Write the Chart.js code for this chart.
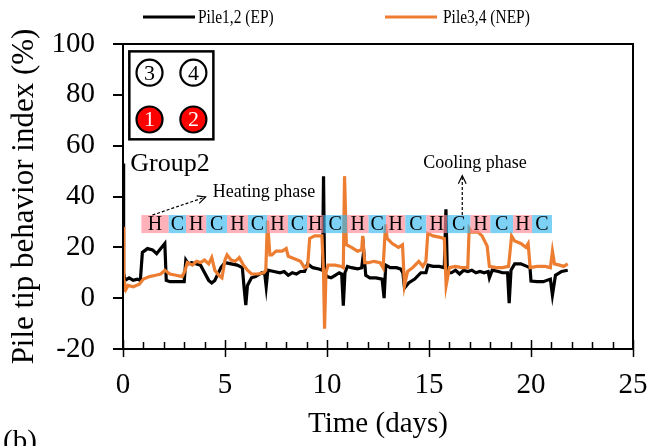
<!DOCTYPE html>
<html>
<head>
<meta charset="utf-8">
<script src="https://cdn.jsdelivr.net/npm/chart.js@4.4.0/dist/chart.umd.min.js"></script>
<style>
  body { margin: 0; background: #fff; }
  #wrap { width: 652px; height: 446px; }
</style>
</head>
<body>
<div id="wrap"><canvas id="pileTip" width="652" height="446"></canvas></div>
<script>
const SERIF = '"Liberation Serif", "Times New Roman", serif';

// Pile1,2 (EP): time in days, tip behavior index in %
const timeEP = [0, 0.03, 0.1, 0.3, 0.5, 0.7, 0.85, 0.95, 1.2, 1.45, 1.65, 1.85, 2.05, 2.12, 2.3, 2.6, 3.0, 3.08, 3.2, 3.35, 3.6, 3.8, 4.0, 4.2, 4.35, 4.5, 4.8, 5.0, 5.3, 5.6, 5.85, 5.95, 6.02, 6.1, 6.3, 6.5, 6.8, 6.95, 7.02, 7.1, 7.4, 7.7, 7.9, 8.1, 8.3, 8.5, 8.7, 8.9, 9.05, 9.3, 9.6, 9.78, 9.83, 9.88, 10.0, 10.2, 10.4, 10.6, 10.72, 10.8, 10.88, 11.0, 11.2, 11.5, 11.7, 11.8, 11.9, 12.1, 12.4, 12.7, 12.8, 12.88, 13.1, 13.4, 13.6, 13.72, 13.8, 14.0, 14.3, 14.6, 14.85, 14.95, 15.2, 15.5, 15.75, 15.83, 15.9, 16.1, 16.3, 16.5, 16.7, 16.9, 17.1, 17.3, 17.5, 17.7, 17.9, 17.96, 18.1, 18.4, 18.6, 18.85, 18.93, 19.02, 19.2, 19.5, 19.8, 19.95, 20.0, 20.3, 20.6, 20.95, 21.05, 21.2, 21.5, 21.8];
const pileEP = [53, 10, 7, 8, 7, 7.5, 7, 18, 19.5, 19, 17.5, 19.5, 21.5, 7, 6.5, 6.5, 6.5, 15, 13.5, 14, 13.5, 13, 10, 7, 6, 7, 12, 14, 13.5, 13, 12, 3, -2.7, 5, 8, 8.5, 10, 9.5, 4.5, 11, 10.5, 10, 10.5, 9, 10, 9.5, 10.5, 10.5, 13.5, 12, 11.5, 11, 48, 10, 8.5, 8, 9, 10, 9.5, -3, 10, 12.5, 12, 11.5, 12, 18.5, 9, 8, 8, 7.5, 0, 13, 12, 12, 11.5, 10, 4, 6, 7.5, 10, 10, 13, 12.5, 12.5, 12, 35, 10, 10, 11, 9.5, 11, 10.5, 11, 10, 10.5, 10, 10.5, 8, 11, 10.5, 10, 10, -2, 11, 13.5, 13.5, 12.5, 12, 6.7, 6.5, 6.5, 7.5, 1.2, 9, 10.5, 11];

// Pile3,4 (NEP)
const timeNEP = [0, 0.04, 0.08, 0.15, 0.25, 0.5, 0.8, 1.0, 1.3, 1.6, 1.85, 2.05, 2.3, 2.6, 2.9, 3.05, 3.15, 3.4, 3.6, 3.8, 4.0, 4.2, 4.35, 4.5, 4.7, 4.85, 5.0, 5.1, 5.3, 5.5, 5.7, 5.9, 6.1, 6.3, 6.6, 6.9, 7.0, 7.08, 7.2, 7.3, 7.5, 7.8, 8.0, 8.1, 8.4, 8.7, 8.9, 9.05, 9.15, 9.4, 9.75, 9.83, 9.88, 9.95, 10.05, 10.4, 10.7, 10.8, 10.86, 10.95, 11.2, 11.5, 11.7, 11.75, 11.85, 12.05, 12.3, 12.6, 12.75, 12.87, 12.95, 13.2, 13.5, 13.7, 13.8, 13.95, 14.2, 14.5, 14.7, 14.85, 14.94, 15.2, 15.5, 15.75, 15.84, 16.0, 16.3, 16.6, 16.9, 16.97, 17.1, 17.4, 17.6, 17.85, 17.96, 18.3, 18.6, 18.9, 19.05, 19.2, 19.5, 19.75, 19.86, 19.96, 20.3, 20.7, 20.95, 21.05, 21.15, 21.4, 21.6, 21.8];
const pileNEP = [28, 2.5, 6, 3.5, 5, 4.5, 5.5, 7.5, 8.5, 9, 9.5, 11, 9.5, 9, 8.5, 11, 14, 13, 14.5, 14, 15, 13.5, 16, 11, 9, 8, 15, 17, 15, 14.5, 16, 13, 11, 9.5, 9.5, 10, 11, 30.5, 17, 17, 18.5, 18.5, 19.5, 16.5, 15.5, 14.5, 12, 12.5, 23.5, 24.5, 24.5, 10, -12, 10, 13, 13, 12.5, 12, 48, 21, 20, 18.5, 19, 24.5, 14, 14, 14.5, 14, 12, 29, 23.5, 21.5, 20, 21, 5, 10.5, 12, 14.5, 12.5, 14.5, 25.5, 24.5, 24, 23.5, 5, 12, 12.5, 12, 12, 27.5, 26, 26, 24.5, 20.5, 12.5, 12, 12, 12.5, 24.5, 22.5, 21.5, 20, 21.5, 12, 12.5, 12.5, 12, 18.5, 13.5, 13, 12.5, 13.5];

const seriesLabels = ["Pile1,2 (EP)", "Pile3,4 (NEP)"];
const seriesColors = ["#000000", "#ED7D31"];

const xTicks = [0, 5, 10, 15, 20, 25];
const yTicks = [-20, 0, 20, 40, 60, 80, 100];

// heating / cooling phase boundaries (days)
const phaseEdges = [0.9, 2.24, 3.09, 4.08, 5.1, 6.13, 7.06, 8.09, 9.02, 9.83, 10.98, 12.04, 12.89, 13.84, 14.87, 15.88, 17.03, 18.01, 19.12, 20.05, 21.03];
const phaseLabels = ["H", "C", "H", "C", "H", "C", "H", "C", "H", "C", "H", "C", "H", "C", "H", "C", "H", "C", "H", "C"];

const toPoints = (xs, ys) => xs.map((t, i) => ({ x: t, y: ys[i] }));

function dashedArrow(ctx, x0, y0, x1, y1) {
  ctx.save();
  ctx.strokeStyle = "#000";
  ctx.lineWidth = 1.2;
  ctx.setLineDash([3, 2]);
  ctx.beginPath();
  ctx.moveTo(x0, y0);
  ctx.lineTo(x1, y1);
  ctx.stroke();
  ctx.setLineDash([]);
  const a = Math.atan2(y1 - y0, x1 - x0);
  const h = 9;
  ctx.beginPath();
  ctx.moveTo(x1 - h * Math.cos(a - 0.45), y1 - h * Math.sin(a - 0.45));
  ctx.lineTo(x1, y1);
  ctx.lineTo(x1 - h * Math.cos(a + 0.45), y1 - h * Math.sin(a + 0.45));
  ctx.stroke();
  ctx.restore();
}

// annotations, frame, ticks and legend
const decor = {
  id: "decor",
  afterDatasetsDraw(chart) {
    const { ctx, scales: { x, y } } = chart;
    ctx.save();
    const yt = y.getPixelForValue(32.7), yb = y.getPixelForValue(25.6);
    for (let i = 0; i < phaseLabels.length; i++) {
      const x0 = x.getPixelForValue(phaseEdges[i]);
      const x1 = x.getPixelForValue(phaseEdges[i + 1]);
      ctx.fillStyle = phaseLabels[i] === "H" ? "rgba(255,140,152,0.68)" : "rgba(55,185,240,0.65)";
      ctx.fillRect(x0, yt, x1 - x0, yb - yt);
    }
    ctx.fillStyle = "#000";
    ctx.font = "20px " + SERIF;
    ctx.textAlign = "center";
    ctx.textBaseline = "middle";
    for (let i = 0; i < phaseLabels.length; i++) {
      const xm = (x.getPixelForValue(phaseEdges[i]) + x.getPixelForValue(phaseEdges[i + 1])) / 2;
      ctx.fillText(phaseLabels[i], xm, (yt + yb) / 2 + 1);
    }
    ctx.restore();
  },
  afterDraw(chart) {
    const { ctx, chartArea: ca, scales: { x, y } } = chart;
    ctx.save();
    ctx.strokeStyle = "#000";
    ctx.lineWidth = 2;
    ctx.strokeRect(ca.left, ca.top, ca.right - ca.left, ca.bottom - ca.top);

    // y ticks point outwards
    ctx.beginPath();
    yTicks.forEach((v) => {
      const py = Math.round(y.getPixelForValue(v));
      ctx.moveTo(ca.left - 10, py);
      ctx.lineTo(ca.left, py);
    });
    ctx.stroke();

    // x ticks: majors cross the axis, minors point inwards
    ctx.lineWidth = 1.5;
    ctx.beginPath();
    for (let d = 0; d <= 25; d++) {
      const px = Math.round(x.getPixelForValue(d)) + 0.5;
      const major = d % 5 === 0;
      ctx.moveTo(px, ca.bottom - (major ? 9 : 7));
      ctx.lineTo(px, ca.bottom + (major ? 8 : 0));
    }
    ctx.stroke();

    // inset with the pile layout
    const bx0 = x.getPixelForValue(0.31), bx1 = x.getPixelForValue(4.43);
    const by0 = y.getPixelForValue(97.1), by1 = y.getPixelForValue(62.5);
    ctx.lineWidth = 2.5;
    ctx.strokeRect(bx0, by0, bx1 - bx0, by1 - by0);
    const piles = [
      { n: "3", d: 1.3, v: 88.7, red: false },
      { n: "4", d: 3.45, v: 88.7, red: false },
      { n: "1", d: 1.3, v: 70.3, red: true },
      { n: "2", d: 3.45, v: 70.3, red: true },
    ];
    ctx.font = "22px " + SERIF;
    ctx.textAlign = "center";
    ctx.textBaseline = "middle";
    piles.forEach((p) => {
      const cx = x.getPixelForValue(p.d), cy = y.getPixelForValue(p.v);
      ctx.beginPath();
      ctx.arc(cx, cy, 13, 0, Math.PI * 2);
      ctx.fillStyle = p.red ? "#FF0000" : "#FFFFFF";
      ctx.fill();
      ctx.lineWidth = 2.2;
      ctx.stroke();
      ctx.fillStyle = p.red ? "#FFFFFF" : "#000000";
      ctx.fillText(p.n, cx, cy + 1);
    });

    ctx.fillStyle = "#000";
    ctx.textAlign = "left";
    ctx.textBaseline = "alphabetic";
    ctx.font = "26px " + SERIF;
    ctx.fillText("Group2", x.getPixelForValue(0.36), y.getPixelForValue(50.2));

    ctx.font = "18px " + SERIF;
    ctx.textBaseline = "middle";
    ctx.fillText("Heating phase", x.getPixelForValue(4.4), y.getPixelForValue(41.8));
    ctx.fillText("Cooling phase", x.getPixelForValue(14.72), y.getPixelForValue(53.1));
    dashedArrow(ctx, x.getPixelForValue(1.44), y.getPixelForValue(32.7), x.getPixelForValue(4.05), y.getPixelForValue(39.8));
    dashedArrow(ctx, x.getPixelForValue(16.63), y.getPixelForValue(32.7), x.getPixelForValue(16.63), y.getPixelForValue(48.2));

    // legend (narrow serif, as in the original)
    const legendPos = [{ lx: 143, tx: 198 }, { lx: 385, tx: 443 }];
    chart.data.datasets.forEach((ds, i) => {
      const ly = 17;
      ctx.strokeStyle = ds.borderColor;
      ctx.lineWidth = 3;
      ctx.beginPath();
      ctx.moveTo(legendPos[i].lx, ly);
      ctx.lineTo(legendPos[i].lx + 52, ly);
      ctx.stroke();
      ctx.save();
      ctx.translate(legendPos[i].tx, ly + 1);
      ctx.scale(0.86, 1);
      ctx.fillStyle = "#000";
      ctx.font = "18px " + SERIF;
      ctx.fillText(ds.label, 0, 0);
      ctx.restore();
    });

    ctx.font = "29px " + SERIF;
    ctx.textBaseline = "alphabetic";
    ctx.fillText("(b)", 3, 450);
    ctx.restore();
  },
};

new Chart(document.getElementById("pileTip"), {
  type: "line",
  data: {
    datasets: [
      {
        label: seriesLabels[0],
        data: toPoints(timeEP, pileEP),
        borderColor: seriesColors[0],
        borderWidth: 3.2,
        pointRadius: 0,
        tension: 0,
        order: 1,
      },
      {
        label: seriesLabels[1],
        data: toPoints(timeNEP, pileNEP),
        borderColor: seriesColors[1],
        borderWidth: 3.2,
        pointRadius: 0,
        tension: 0,
        order: 0,
      },
    ],
  },
  options: {
    responsive: false,
    animation: false,
    layout: { padding: { top: 44, right: 19, left: 0, bottom: 0 } },
    plugins: { legend: { display: false }, tooltip: { enabled: false } },
    scales: {
      x: {
        type: "linear",
        min: 0,
        max: 25,
        afterBuildTicks: (s) => { s.ticks = xTicks.map((v) => ({ value: v })); },
        afterFit: (s) => { s.height = 97; s.paddingLeft = 0; s.paddingRight = 0; },
        grid: { display: false, drawTicks: false },
        border: { display: true, color: "#000", width: 2 },
        ticks: { color: "#000", font: { family: SERIF, size: 29 }, padding: 19, maxRotation: 0 },
        title: { display: true, text: "Time (days)", color: "#000", font: { family: SERIF, size: 29 }, padding: { top: 0, bottom: 4 } },
      },
      y: {
        min: -20,
        max: 100,
        afterBuildTicks: (s) => { s.ticks = yTicks.map((v) => ({ value: v })); },
        afterFit: (s) => { s.width = 123; s.paddingTop = 0; s.paddingBottom = 0; },
        grid: { display: false, drawTicks: false },
        border: { display: true, color: "#000", width: 2 },
        ticks: { color: "#000", font: { family: SERIF, size: 29 }, padding: 28 },
        title: { display: true, text: "Pile tip behavior index (%)", color: "#000", font: { family: SERIF, size: 31 }, padding: { top: 6, bottom: 0 } },
      },
    },
  },
  plugins: [decor],
});
</script>
</body>
</html>
